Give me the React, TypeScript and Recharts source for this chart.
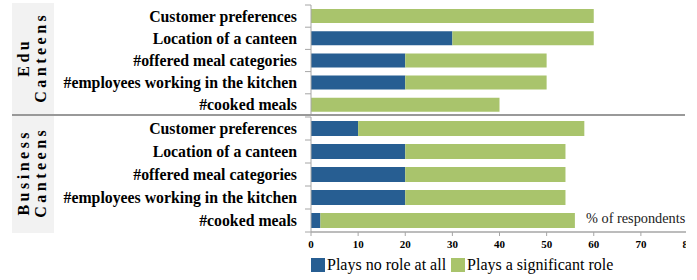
import { BarChart, Bar, XAxis, YAxis } from 'recharts';

const categories = [
  'Customer preferences',
  'Location of a canteen',
  '#offered meal categories',
  '#employees working in the kitchen',
  '#cooked meals',
];
const eduNoRole = [0, 30, 20, 20, 0];
const eduSignificant = [60, 30, 30, 30, 40];
const businessNoRole = [10, 20, 20, 20, 2];
const businessSignificant = [48, 34, 34, 34, 54];
const xTicks = [0, 10, 20, 30, 40, 50, 60, 70, 80];

const BLUE = '#275e92';
const GREEN = '#a9c46c';
const AXIS = '#a6a6a6';
const SERIF = "'Liberation Serif', 'DejaVu Serif', serif";
const AXIS_X = 311;

function makeRows(noRole: number[], significant: number[]) {
  return categories.map((name, i) => ({ name, noRole: noRole[i], significant: significant[i] }));
}

// category label plus the small boundary tick marks (excel puts them between bars)
function CategoryTick(props: any) {
  const { x, y, payload, index, band } = props;
  const half = band / 2;
  return (
    <g>
      <line x1={AXIS_X - 6} x2={AXIS_X} y1={y - half} y2={y - half} stroke={AXIS} />
      {index === 4 && <line x1={AXIS_X - 6} x2={AXIS_X} y1={y + half} y2={y + half} stroke={AXIS} />}
      <text x={x} y={y} dy="0.35em" textAnchor="end" style={{ fontFamily: SERIF }} fontWeight="bold" fontSize={15.8} fill="#000">
        {payload.value}
      </text>
    </g>
  );
}

function GroupLabel({ lines, cy, cx }: { lines: string[]; cy: number; cx: number }) {
  const w = 120;
  const h = 34;
  return (
    <div
      style={{
        position: 'absolute',
        left: cx - w / 2,
        top: cy - h / 2,
        width: w,
        height: h,
        transform: 'rotate(-90deg)',
        textAlign: 'center',
        fontFamily: SERIF,
        fontWeight: 'bold',
        fontSize: 16,
        lineHeight: '16.5px',
        letterSpacing: 3.5,
        paddingLeft: 3.5,
        boxSizing: 'border-box',
      }}
    >
      {lines.map((l) => (
        <div key={l}>{l}</div>
      ))}
    </div>
  );
}

export default function App() {
  const edu = makeRows(eduNoRole, eduSignificant);
  const business = makeRows(businessNoRole, businessSignificant);

  return (
    <div style={{ position: 'absolute', left: 0, top: 0, width: 697, height: 280, background: '#fff', fontFamily: SERIF }}>
      <div style={{ position: 'absolute', left: 12, top: 3, width: 42, height: 230, background: '#f2f2f2' }} />

      <div style={{ position: 'absolute', left: 0, top: 0, width: 686, height: 116, overflow: 'hidden' }}>
        <BarChart width={700} height={116} layout="vertical" data={edu} margin={{ top: 5, right: 12, bottom: 0, left: 0 }}>
          <XAxis type="number" domain={[0, 80]} ticks={xTicks} hide />
          <YAxis
            type="category"
            dataKey="name"
            width={AXIS_X}
            interval={0}
            tickLine={false}
            tickSize={6}
            tickMargin={8}
            axisLine={{ stroke: AXIS }}
            tick={(p: any) => <CategoryTick {...p} band={111 / 5} />}
          />
          <Bar dataKey="noRole" stackId="a" fill={BLUE} barSize={14} isAnimationActive={false} />
          <Bar dataKey="significant" stackId="a" fill={GREEN} barSize={14} isAnimationActive={false} />
        </BarChart>
      </div>

      <div style={{ position: 'absolute', left: 0, top: 116, width: 686, height: 134, overflow: 'hidden' }}>
        <BarChart width={700} height={134} layout="vertical" data={business} margin={{ top: 1, right: 12, bottom: 0, left: 0 }}>
          <XAxis
            type="number"
            domain={[0, 80]}
            ticks={xTicks}
            interval={0}
            height={18}
            tickSize={4}
            tickMargin={4}
            axisLine={{ stroke: AXIS, strokeWidth: 1.5 }}
            tickLine={{ stroke: AXIS }}
            tick={{ style: { fontFamily: SERIF }, fontWeight: 'bold', fontSize: 11, fill: '#000' }}
          />
          <YAxis
            type="category"
            dataKey="name"
            width={AXIS_X}
            interval={0}
            tickLine={false}
            tickSize={6}
            tickMargin={8}
            axisLine={{ stroke: AXIS }}
            tick={(p: any) => <CategoryTick {...p} band={115 / 5} />}
          />
          <Bar dataKey="noRole" stackId="a" fill={BLUE} barSize={15} isAnimationActive={false} />
          <Bar dataKey="significant" stackId="a" fill={GREEN} barSize={15} isAnimationActive={false} />
        </BarChart>
      </div>

      <div style={{ position: 'absolute', left: 12, top: 114, width: 673, height: 2, background: '#999' }} />

      <GroupLabel lines={['Edu', 'Canteens']} cx={33} cy={59} />
      <GroupLabel lines={['Business', 'Canteens']} cx={33} cy={174} />

      <div style={{ position: 'absolute', left: 586, top: 210, fontFamily: SERIF, fontSize: 14.3, color: '#222', whiteSpace: 'nowrap' }}>
        % of respondents
      </div>

      <div
        style={{
          position: 'absolute',
          left: 311,
          top: 256,
          display: 'flex',
          alignItems: 'center',
          fontFamily: SERIF,
          fontSize: 16,
          color: '#000',
          whiteSpace: 'nowrap',
        }}
      >
        <span style={{ width: 14, height: 14, background: BLUE, display: 'inline-block', marginRight: 2 }} />
        <span style={{ marginRight: 5 }}>Plays no role at all</span>
        <span style={{ width: 14, height: 14, background: GREEN, display: 'inline-block', marginRight: 2 }} />
        <span>Plays a significant role</span>
      </div>
    </div>
  );
}
